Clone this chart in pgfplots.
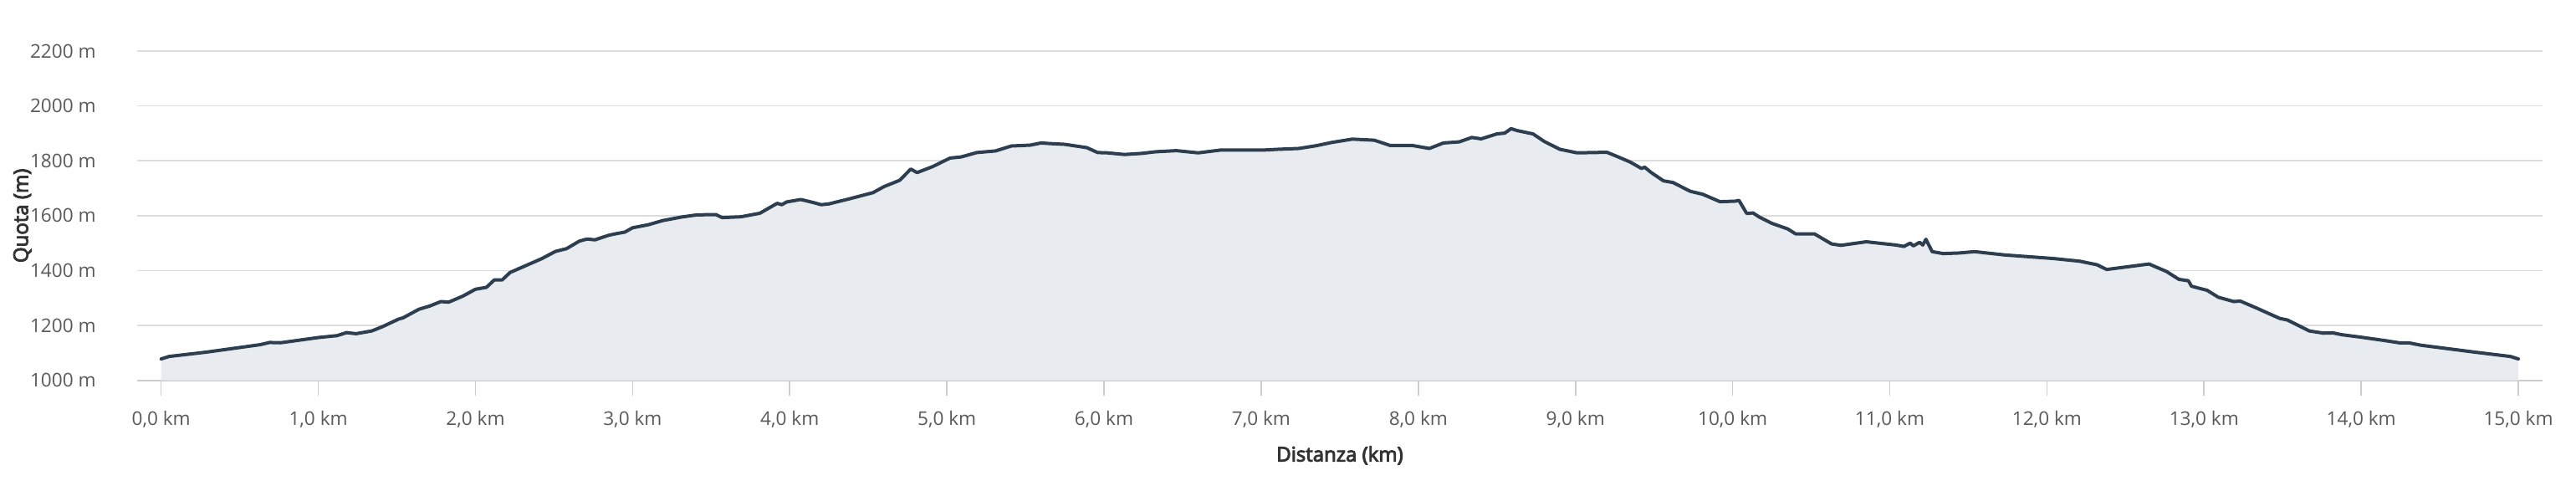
\documentclass[border=0pt]{standalone}
\usepackage{fontspec}
\setmainfont{Open Sans}
\newfontfamily\semib[FakeBold=4]{Open Sans}
\usepackage{pgfplots}
\pgfplotsset{compat=1.18}
\definecolor{linec}{HTML}{2C3E50}
\definecolor{fillc}{HTML}{E8ECF0}
\definecolor{gridc}{HTML}{DDDDDD}
\definecolor{axisc}{HTML}{CCCCCC}
\definecolor{tickt}{HTML}{595959}
\definecolor{labt}{HTML}{333333}
\pgfplotstableread{
km m
0.00 1078
0.05 1087
0.29 1103
0.63 1130
0.69 1138
0.76 1137
1.00 1156
1.12 1163
1.18 1174
1.24 1170
1.34 1180
1.41 1196
1.51 1223
1.54 1228
1.64 1259
1.71 1271
1.78 1287
1.83 1285
1.92 1307
2.00 1332
2.07 1339
2.12 1366
2.17 1366
2.22 1393
2.32 1418
2.42 1443
2.51 1470
2.58 1480
2.66 1507
2.71 1515
2.76 1512
2.85 1529
2.90 1535
2.95 1540
3.00 1556
3.10 1567
3.19 1582
3.31 1595
3.41 1603
3.53 1604
3.57 1593
3.69 1596
3.81 1609
3.92 1645
3.95 1640
3.98 1650
4.07 1659
4.15 1648
4.20 1640
4.25 1643
4.39 1663
4.53 1684
4.60 1706
4.70 1729
4.77 1770
4.81 1757
4.91 1779
5.02 1810
5.09 1814
5.19 1830
5.31 1836
5.41 1854
5.53 1857
5.60 1865
5.65 1863
5.75 1860
5.89 1848
5.96 1830
6.02 1829
6.13 1823
6.24 1827
6.33 1833
6.46 1837
6.60 1829
6.74 1839
7.01 1839
7.11 1842
7.24 1845
7.35 1855
7.45 1867
7.58 1879
7.72 1875
7.82 1856
7.96 1856
8.07 1845
8.16 1865
8.26 1869
8.34 1885
8.40 1880
8.50 1898
8.55 1901
8.59 1917
8.63 1910
8.73 1898
8.80 1871
8.90 1842
9.01 1829
9.20 1831
9.26 1817
9.35 1795
9.42 1772
9.44 1777
9.48 1758
9.56 1727
9.62 1721
9.73 1689
9.81 1678
9.92 1651
10.02 1653
10.04 1656
10.09 1608
10.13 1610
10.17 1595
10.25 1572
10.35 1552
10.40 1534
10.52 1534
10.63 1497
10.69 1492
10.85 1505
11.04 1493
11.09 1488
11.13 1500
11.15 1490
11.19 1503
11.21 1493
11.23 1514
11.27 1469
11.34 1462
11.44 1464
11.54 1469
11.73 1457
12.04 1444
12.21 1434
12.32 1421
12.38 1404
12.65 1424
12.69 1414
12.76 1397
12.84 1368
12.90 1363
12.92 1343
13.02 1328
13.09 1303
13.19 1287
13.23 1289
13.34 1262
13.48 1226
13.53 1220
13.67 1180
13.76 1172
13.82 1173
13.88 1166
13.99 1158
14.15 1145
14.24 1137
14.30 1137
14.38 1128
14.72 1103
14.95 1087
15.00 1078
}\elev
\begin{document}
\begin{tikzpicture}
\path[use as bounding box] (0,0) rectangle (1540pt,290pt);
\begin{axis}[
  anchor=south west, at={(82pt,62.65pt)},
  scale only axis, width=1438pt, height=196.85pt,
  xmin=-0.1527, xmax=15.154, ymin=1000, ymax=2200,
  axis x line*=bottom, axis y line*=left,
  x axis line style={draw=axisc, line width=0.8pt},
  y axis line style={draw=none},
  xtick={0,1,...,15},
  xticklabels={{0,0 km},{1,0 km},{2,0 km},{3,0 km},{4,0 km},{5,0 km},{6,0 km},{7,0 km},{8,0 km},{9,0 km},{10,0 km},{11,0 km},{12,0 km},{13,0 km},{14,0 km},{15,0 km}},
  ytick={1000,1200,...,2200},
  yticklabels={1000 m,1200 m,1400 m,1600 m,1800 m,2000 m,2200 m},
  tick align=outside,
  major tick length=9pt,
  x tick style={draw=axisc, line width=0.8pt},
  y tick style={draw=none},
  ymajorgrids, grid style={draw=gridc, line width=0.8pt},
  xticklabel style={font=\fontsize{11.3}{13}\selectfont, text=tickt, anchor=base, yshift=-17.85pt},
  yticklabel style={font=\fontsize{11.3}{13}\selectfont, text=tickt, anchor=east, inner sep=0pt, xshift=-15.5pt},
  xlabel={Distanza (km)}, ylabel={Quota (m)},
  xlabel style={font=\fontsize{12}{14}\selectfont\semib, text=labt, at={(axis description cs:0.5,-0.2461)}, anchor=base},
  ylabel style={font=\fontsize{12}{14}\selectfont\semib, text=labt, at={(axis description cs:-0.0454,0.5)}, anchor=base},
  clip=false,
]
\addplot[draw=none, fill=fillc] table[x=km, y=m] {\elev} \closedcycle;
\addplot[draw=linec, line width=2pt, line join=round, line cap=round] table[x=km, y=m] {\elev};
\end{axis}
\end{tikzpicture}
\end{document}
